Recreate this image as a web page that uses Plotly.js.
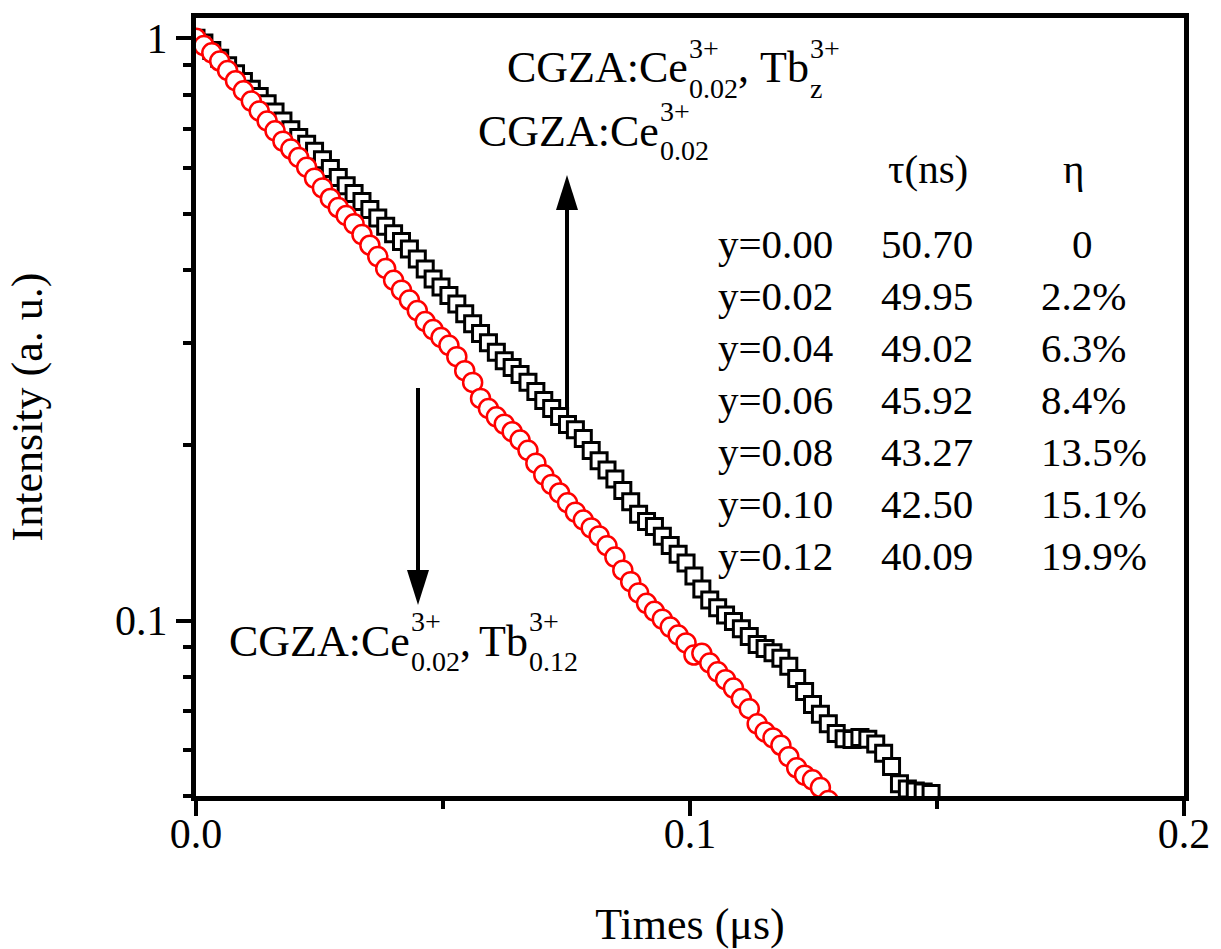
<!DOCTYPE html>
<html><head><meta charset="utf-8">
<script src="https://cdn.plot.ly/plotly-3.0.1.min.js"></script>
<style>html,body{margin:0;padding:0;background:#fff;} #chart{width:1221px;height:949px;}</style>
</head><body><div id="chart"></div>
<script>
// ---- data ----
const timeUs = [0,0.0016,0.0032,0.0048,0.0064,0.008,0.0096,0.0112,0.0128,0.0144,
0.016,0.0176,0.0192,0.0208,0.0224,0.024,0.0256,0.0272,0.0288,0.0304,
0.032,0.0336,0.0352,0.0368,0.0384,0.04,0.0416,0.0432,0.0448,0.0464,
0.048,0.0496,0.0512,0.0528,0.0544,0.056,0.0576,0.0592,0.0608,0.0624,
0.064,0.0656,0.0672,0.0688,0.0704,0.072,0.0736,0.0752,0.0768,0.0784,
0.08,0.0816,0.0832,0.0848,0.0864,0.088,0.0896,0.0912,0.0928,0.0944,
0.096,0.0976,0.0992,0.1008,0.1024,0.104,0.1056,0.1072,0.1088,0.1104,
0.112,0.1136,0.1152,0.1168,0.1184,0.12,0.1216,0.1232,0.1248,0.1264,
0.128,0.1296,0.1312,0.1328,0.1344,0.136,0.1376,0.1392,0.1408,0.1424,
0.144,0.1456,0.1472,0.1488];

// CGZA:Ce0.02 (black squares)
const intensityCe = [1.000,0.9817,0.9527,0.9246,0.8973,0.8694,0.8427,0.8178,0.7946,0.7720,
0.7475,0.7215,0.6963,0.6758,0.6577,0.6400,0.6190,0.5974,0.5768,0.5585,
0.5414,0.5246,0.5080,0.4916,0.4757,0.4616,0.4479,0.4347,0.4180,0.4018,
0.3863,0.3740,0.3618,0.3499,0.3364,0.3236,0.3113,0.3000,0.2891,0.2796,
0.2720,0.2647,0.2566,0.2476,0.2389,0.2313,0.2241,0.2173,0.2128,0.2055,
0.1960,0.1882,0.1815,0.1751,0.1673,0.1600,0.1524,0.1480,0.1451,0.1397,
0.1346,0.1300,0.1256,0.1193,0.1133,0.1085,0.1052,0.1023,0.0997,0.0969,
0.0939,0.0910,0.0896,0.0881,0.0862,0.0835,0.0796,0.0756,0.0718,0.0691,
0.0665,0.0640,0.0627,0.0625,0.0630,0.0626,0.0614,0.0592,0.0562,0.0525,
0.0514,0.0510,0.0508,0.0505];

// CGZA:Ce0.02,Tb0.12 (red circles)
const intensityCeTb = [1.000,0.9716,0.9441,0.9141,0.8805,0.8457,0.8128,0.7803,0.7503,0.7211,
0.6937,0.6658,0.6455,0.6242,0.6007,0.5753,0.5535,0.5309,0.5122,0.4963,
0.4803,0.4603,0.4413,0.4219,0.4025,0.3842,0.3695,0.3553,0.3408,0.3264,
0.3161,0.3064,0.2970,0.2840,0.2687,0.2565,0.2408,0.2314,0.2239,0.2175,
0.2111,0.2043,0.1961,0.1864,0.1780,0.1714,0.1657,0.1594,0.1536,0.1489,
0.1443,0.1398,0.1345,0.1286,0.1221,0.1167,0.1116,0.1071,0.1038,0.1006,
0.0975,0.0945,0.0916,0.0873,0.0879,0.0846,0.0817,0.0792,0.0766,0.0735,
0.0706,0.0665,0.0644,0.0629,0.0611,0.0584,0.0559,0.0543,0.0533,0.0517,
0.0491];

const xTickVals = [0, 0.1, 0.2];
const xTickText = ['0.0', '0.1', '0.2'];
const yTickVals = [0.1, 1];
const yTickText = ['0.1', '1'];
const yMinorVals = [0.05,0.06,0.07,0.08,0.09,0.2,0.3,0.4,0.5,0.6,0.7,0.8,0.9];

const tableRows = ['y=0.00','y=0.02','y=0.04','y=0.06','y=0.08','y=0.10','y=0.12'];
const tauNs = ['50.70','49.95','49.02','45.92','43.27','42.50','40.09'];
const etaPct = ['0','2.2%','6.3%','8.4%','13.5%','15.1%','19.9%'];
const tableHeader = ['τ(ns)', 'η'];

const host = 'CGZA:Ce';
const ionCharge = '3+';
const ceConc = '0.02';
const tbLabelTop = 'z';
const tbLabelBottom = '0.12';

// ---- layout helpers ----
const W = 1221, H = 949, L = 196, R = 37, T = 18, B = 153;
const pw = W - L - R, ph = H - T - B;
const px2x = px => (px - L) / pw;
const py2y = py => (H - B - py) / ph;
const serif = 'Liberation Serif, Times New Roman, serif';
const ctx = document.createElement('canvas').getContext('2d');
function measure(text, size) { ctx.font = size + 'px Liberation Serif'; return ctx.measureText(text).width; }
function txt(text, px, py, size, anchor) {
  return {text: text, x: px2x(px), y: py2y(py), xref: 'paper', yref: 'paper',
    xanchor: anchor || 'left', yanchor: 'middle', showarrow: false, borderpad: 0,
    font: {family: serif, size: size, color: '#000'}};
}
const big = 44, small = 28;
const ann = [];
// label built from runs: strings are main text, [sup, sub] pairs are stacked scripts, numbers are gaps
function label(startPx, cy, runs) {
  let x = startPx;
  runs.forEach(r => {
    if (typeof r === 'number') { x += r; }
    else if (Array.isArray(r)) {
      ann.push(txt(r[0], x + 1, cy - 20, small), txt(r[1], x + 1, cy + 20, small));
      x += Math.max(measure(r[0], small), measure(r[1], small)) + 1;
    } else {
      ann.push(txt(r, x, cy, big));
      x += measure(r, big);
    }
  });
}
label(506, 68, [host, [ionCharge, ceConc], ',', 11, 'Tb', [ionCharge, tbLabelTop]]);
label(477, 131, [host, [ionCharge, ceConc]]);
label(228, 641, [host, [ionCharge, ceConc], ',', 8, 'Tb', [ionCharge, tbLabelBottom]]);

// table
const tf = 41;
ann.push(txt(tableHeader[0], 928, 169, tf, 'center'), txt(tableHeader[1], 1073, 169, tf, 'center'));
tableRows.forEach((r, i) => {
  const cy = 244 + 52 * i;
  ann.push(txt(r, 717, cy, tf));
  ann.push(txt(tauNs[i], 880, cy, tf));
  if (etaPct[i] === '0') ann.push(txt(etaPct[i], 1082, cy, tf, 'center'));
  else ann.push(txt(etaPct[i], 1040, cy, tf));
});

function tri(pts) {
  return 'M ' + pts.map(p => px2x(p[0]) + ' ' + py2y(p[1])).join(' L ') + ' Z';
}
const shapes = [
  {type: 'line', xref: 'paper', yref: 'paper', x0: px2x(567), x1: px2x(567), y0: py2y(410), y1: py2y(205), line: {color: '#000', width: 4}},
  {type: 'path', xref: 'paper', yref: 'paper', path: tri([[556, 210], [567, 175], [578, 210]]), fillcolor: '#000', line: {width: 0}},
  {type: 'line', xref: 'paper', yref: 'paper', x0: px2x(418), x1: px2x(418), y0: py2y(388), y1: py2y(575), line: {color: '#000', width: 4}},
  {type: 'path', xref: 'paper', yref: 'paper', path: tri([[407, 570], [418, 605], [429, 570]]), fillcolor: '#000', line: {width: 0}}
];

const traces = [
  {x: timeUs, y: intensityCe, type: 'scatter', mode: 'markers', name: 'CGZA:Ce0.02',
   marker: {symbol: 'square', size: 16, color: '#fff', line: {color: '#000', width: 3}}},
  {x: timeUs.slice(0, intensityCeTb.length), y: intensityCeTb, type: 'scatter', mode: 'markers', name: 'CGZA:Ce0.02,Tb0.12',
   marker: {symbol: 'circle', size: 19, color: '#fff', line: {color: '#ff0000', width: 2.5}}}
];

const layout = {
  width: W, height: H,
  margin: {l: L, r: R, t: T, b: B},
  paper_bgcolor: '#fff', plot_bgcolor: '#fff',
  showlegend: false,
  font: {family: serif, color: '#000'},
  xaxis: {
    range: [0, 0.2], tickmode: 'array', tickvals: xTickVals, ticktext: xTickText,
    ticks: 'outside', ticklen: 15, tickwidth: 4, tickcolor: '#000', ticklabelstandoff: -18,
    minor: {dtick: 0.05, ticks: 'outside', ticklen: 8, tickwidth: 4, tickcolor: '#000'},
    showline: true, linewidth: 5, linecolor: '#000', mirror: true,
    showgrid: false, zeroline: false,
    tickfont: {family: serif, size: 42, color: '#000'},
    title: {text: 'Times (μs)', font: {family: serif, size: 44, color: '#000'}, standoff: 62}
  },
  yaxis: {
    type: 'log', range: [Math.log10(0.05), 0.0349], tickmode: 'array', tickvals: yTickVals, ticktext: yTickText,
    ticks: 'outside', ticklen: 15, tickwidth: 4, tickcolor: '#000',
    minor: {tickmode: 'array', tickvals: yMinorVals, ticks: 'outside', ticklen: 8, tickwidth: 4, tickcolor: '#000'},
    showline: true, linewidth: 5, linecolor: '#000', mirror: true,
    showgrid: false, zeroline: false,
    tickfont: {family: serif, size: 42, color: '#000'},
    title: {text: 'Intensity (a. u.)', font: {family: serif, size: 44, color: '#000'}, standoff: 60}
  },
  annotations: ann,
  shapes: shapes
};
Plotly.newPlot('chart', traces, layout, {displayModeBar: false, staticPlot: true});
</script></body></html>
